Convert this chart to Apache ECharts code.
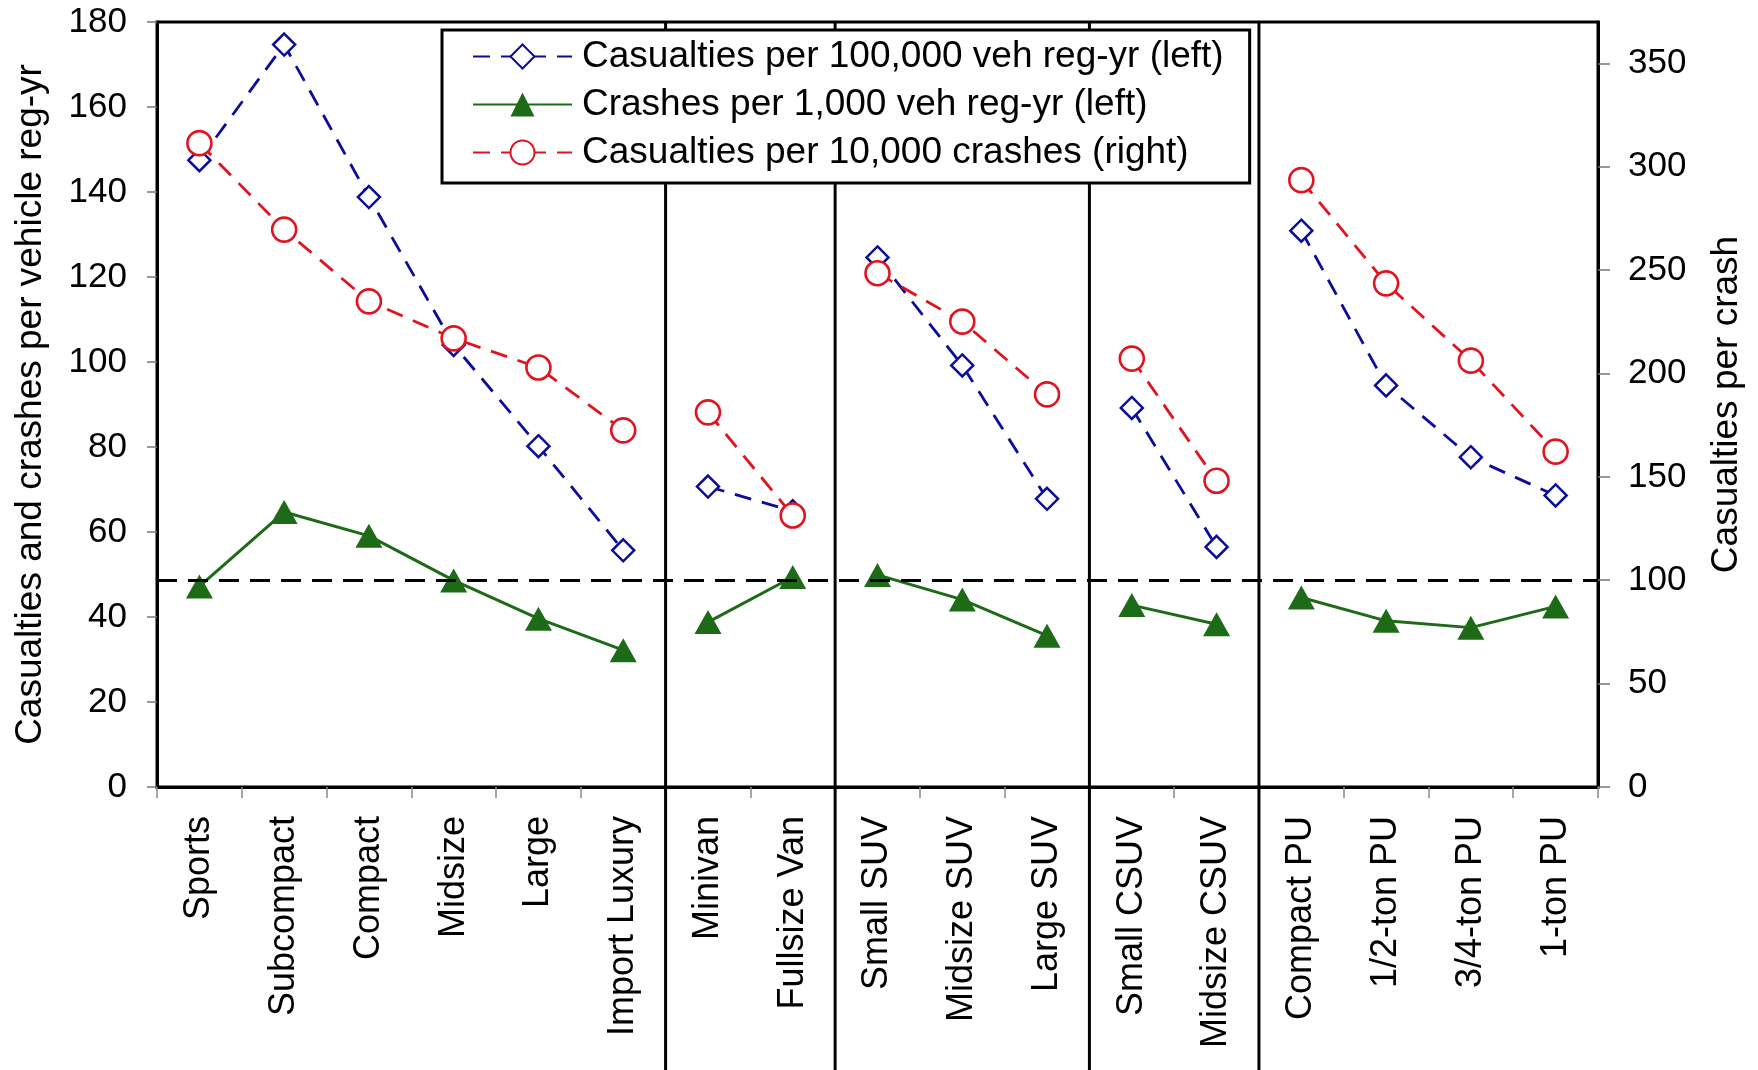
<!DOCTYPE html>
<html><head><meta charset="utf-8">
<script src="https://cdn.jsdelivr.net/npm/echarts@6/dist/echarts.min.js"></script>
<style>html,body{margin:0;padding:0;background:#fff}#c{width:1758px;height:1070px}</style>
</head><body><div id="c"></div>
<script>
const categories = ['Sports','Subcompact','Compact','Midsize','Large','Import Luxury','Minivan','Fullsize Van','Small SUV','Midsize SUV','Large SUV','Small CSUV','Midsize CSUV','Compact PU','1/2-ton PU','3/4-ton PU','1-ton PU'];
const groupSizes = [6, 2, 3, 2, 4];
const casualtiesPerVeh = [147.5,174.7,138.8,104.0,80.2,55.7,70.7,64.9,124.6,99.2,67.8,89.2,56.5,130.9,94.5,77.6,68.6];
const crashesPerVeh = [47.2,64.7,59.1,48.6,39.6,32.2,38.8,49.4,49.9,44.1,35.6,42.8,38.3,44.6,39.1,37.5,42.5];
const casualtiesPerCrash = [311.4,269.6,234.9,217.0,202.9,172.5,181.2,131.3,248.5,225.1,189.9,207.2,148.1,293.5,243.6,206.2,162.2];
const leftTicks = [0,20,40,60,80,100,120,140,160,180];
const rightTicks = [0,50,100,150,200,250,300,350];
const rightMax = 370;
const referenceValue = 100;
const seriesNames = ['Casualties per 100,000 veh reg-yr (left)','Crashes per 1,000 veh reg-yr (left)','Casualties per 10,000 crashes (right)'];

const FONT = "'Liberation Sans', Arial, sans-serif";
const chart = echarts.init(document.getElementById('c'), null, {renderer:'canvas'});

const metrics = [
  {name: seriesNames[0], data: casualtiesPerVeh, yAxisIndex: 0, color: '#0c0c9c', dash: [17, 11], symbol: 'diamond', size: [22, 22], fill: '#fff', bw: 2.5, lw: 2.8},
  {name: seriesNames[1], data: crashesPerVeh, yAxisIndex: 0, color: '#1d6a17', dash: 'solid', symbol: 'triangle', size: [27, 24], fill: '#1d6a17', bw: 0, lw: 3},
  {name: seriesNames[2], data: casualtiesPerCrash, yAxisIndex: 1, color: '#e0141e', dash: [17, 11], symbol: 'circle', size: 24, fill: '#fff', bw: 2.6, lw: 2.8}
];

const series = [];
metrics.forEach((m, mi) => {
  let start = 0;
  groupSizes.forEach((g, gi) => {
    const d = m.data.map((v, i) => (i >= start && i < start + g) ? v : '-');
    const s = {
      name: m.name, type: 'line', yAxisIndex: m.yAxisIndex, data: d,
      symbol: m.symbol, symbolSize: m.size, showAllSymbol: true, connectNulls: false,
      lineStyle: {color: m.color, width: m.lw, type: m.dash},
      itemStyle: {color: m.fill, borderColor: m.color, borderWidth: m.bw},
      emphasis: {disabled: true}, animation: false, z: 3 + mi
    };
    if (mi === 2 && gi === 0) {
      s.markLine = {
        silent: true, symbol: 'none', label: {show: false},
        lineStyle: {color: '#000', width: 3, type: [20, 11]},
        data: [{yAxis: referenceValue}], animation: false
      };
    }
    series.push(s);
    start += g;
  });
});

const option = {
  backgroundColor: '#fff',
  animation: false,
  textStyle: {fontFamily: FONT},
  grid: {left: 157, right: 160, top: 22, bottom: 283, show: true, borderColor: '#000', borderWidth: 3},
  legend: {
    data: seriesNames, orient: 'vertical', left: 442, top: 30,
    itemWidth: 99, itemHeight: 30, itemGap: 11, padding: [8, 26, 12, 30],
    backgroundColor: '#fff', borderColor: '#000', borderWidth: 3, borderRadius: 0, z: 10,
    selectedMode: false,
    textStyle: {fontSize: 37, color: '#000', fontFamily: FONT, lineHeight: 37, padding: [0, 0, 0, 5]}
  },
  xAxis: {
    type: 'category', data: categories, boundaryGap: true,
    axisLine: {lineStyle: {color: '#000', width: 3}},
    axisTick: {show: true, interval: 0, length: 11, lineStyle: {color: '#888', width: 1.5}},
    axisLabel: {rotate: 90, interval: 0, fontSize: 36, margin: 29, color: '#000', fontFamily: FONT}
  },
  yAxis: [
    {
      type: 'value', min: 0, max: 180, interval: 20, position: 'left',
      name: 'Casualties and crashes per vehicle reg-yr', nameLocation: 'middle', nameRotate: 90, nameGap: 108,
      nameTextStyle: {fontSize: 37, color: '#000', fontFamily: FONT},
      axisLine: {show: true, lineStyle: {color: '#000', width: 3}},
      axisTick: {show: true, length: 10, lineStyle: {color: '#777', width: 1.5}},
      axisLabel: {fontSize: 35, margin: 30, color: '#000', fontFamily: FONT, customValues: leftTicks},
      splitLine: {show: false}
    },
    {
      type: 'value', min: 0, max: rightMax, interval: 50, position: 'right',
      name: 'Casualties per crash', nameLocation: 'middle', nameRotate: 90, nameGap: 110,
      nameTextStyle: {fontSize: 37, color: '#000', fontFamily: FONT},
      axisLine: {show: true, lineStyle: {color: '#000', width: 3}},
      axisTick: {show: true, length: 12, lineStyle: {color: '#777', width: 1.5}, customValues: rightTicks},
      axisLabel: {fontSize: 35, margin: 30, color: '#000', fontFamily: FONT, customValues: rightTicks},
      splitLine: {show: false}
    }
  ],
  series: series
};
chart.setOption(option);

// group separators at category boundaries, positioned through the axis scale
const yTop = chart.convertToPixel({yAxisIndex: 0}, 180);
const H = chart.getHeight();
const seps = [];
let acc = 0;
groupSizes.slice(0, -1).forEach(g => {
  acc += g;
  const x = (chart.convertToPixel({xAxisIndex: 0}, acc - 1) + chart.convertToPixel({xAxisIndex: 0}, acc)) / 2;
  seps.push({type: 'line', z: 2, silent: true, shape: {x1: x, y1: yTop, x2: x, y2: H}, style: {stroke: '#000', lineWidth: 3}});
});
chart.setOption({graphic: seps});
</script></body></html>
